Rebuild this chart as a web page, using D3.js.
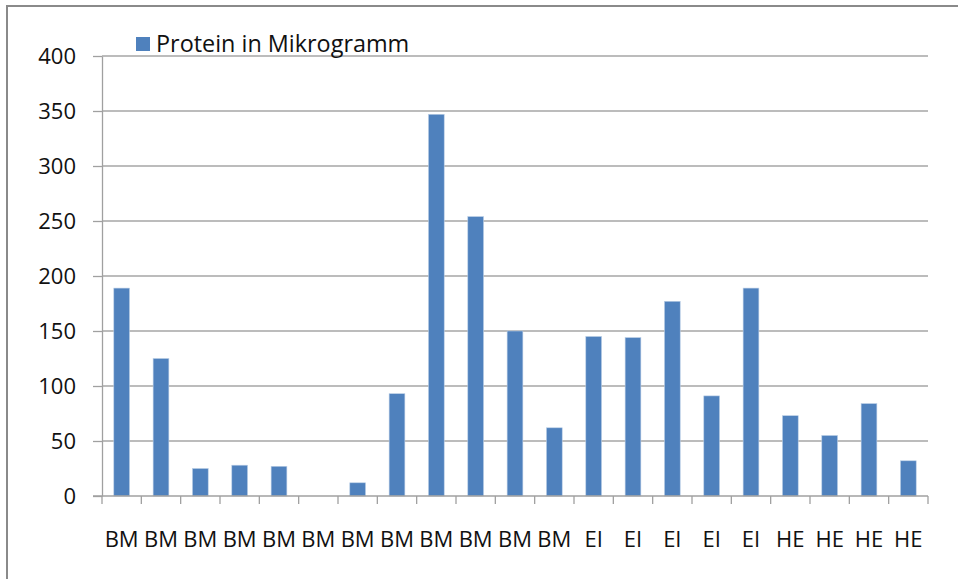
<!DOCTYPE html>
<meta charset="utf-8">
<style>
    body { margin: 0; background: #fff; }
    text { font-family: "Open Sans", sans-serif; fill: #111; }
    .grid line { stroke: #a6a6a6; stroke-width: 1.3px; }
    .axis path, .axis line { stroke: #a0a0a0; stroke-width: 1.3px; }
</style>
<svg width="958" height="579"></svg>
<script src="https://d3js.org/d3.v7.min.js"></script>
<script>

    var categories = ["BM", "BM", "BM", "BM", "BM", "BM", "BM", "BM", "BM", "BM", "BM", "BM",
        "EI", "EI", "EI", "EI", "EI", "HE", "HE", "HE", "HE"];
    var protein = [189, 125, 25, 28, 27, 0, 12, 93, 347, 254, 150, 62,
        145, 144, 177, 91, 189, 73, 55, 84, 32];
    var yTicks = [0, 50, 100, 150, 200, 250, 300, 350, 400];
    var seriesName = "Protein in Mikrogramm";

    var svg = d3.select("svg");

    // outer chart frame (cut off at right and bottom like the screenshot)
    svg.append("rect")
        .attr("x", 7).attr("y", 6)
        .attr("width", 980).attr("height", 600)
        .attr("fill", "none")
        .attr("stroke", "#8a8a8a")
        .attr("stroke-width", 2);

    var plotLeft = 102, plotRight = 928, plotTop = 56, plotBottom = 496;

    var x = d3.scaleBand()
        .domain(d3.range(categories.length))
        .range([plotLeft, plotRight])
        .paddingInner(0.6)
        .paddingOuter(0.3);

    var y = d3.scaleLinear()
        .domain([0, 400])
        .range([plotBottom, plotTop]);

    // gridlines
    svg.append("g")
        .attr("class", "grid")
        .selectAll("line")
        .data(yTicks.filter(function (d) { return d > 0; }))
        .enter().append("line")
        .attr("x1", plotLeft).attr("x2", plotRight)
        .attr("y1", function (d) { return y(d); })
        .attr("y2", function (d) { return y(d); });

    // bars
    svg.append("g")
        .selectAll("rect")
        .data(protein)
        .enter().append("rect")
        .attr("x", function (d, i) { return x(i); })
        .attr("y", function (d) { return y(d); })
        .attr("width", x.bandwidth())
        .attr("height", function (d) { return plotBottom - y(d); })
        .attr("fill", "#4f81bd")
        .attr("stroke", "#b9cde5")
        .attr("stroke-width", 0.6);

    // y axis
    var yAxis = svg.append("g")
        .attr("class", "axis")
        .attr("transform", "translate(" + plotLeft + ",0)")
        .call(d3.axisLeft(y).tickValues(yTicks).tickSize(9).tickPadding(17).tickSizeOuter(0));
    yAxis.selectAll("text")
        .style("font-size", "22px")
        .attr("dy", "0.36em");

    // x axis: category separators
    var xa = svg.append("g").attr("class", "axis");
    xa.append("line")
        .attr("x1", plotLeft - 9).attr("x2", plotRight)
        .attr("y1", plotBottom).attr("y2", plotBottom);
    xa.selectAll(".sep")
        .data(d3.range(categories.length + 1))
        .enter().append("line")
        .attr("class", "sep")
        .attr("x1", function (d) { return plotLeft + d * (plotRight - plotLeft) / categories.length; })
        .attr("x2", function (d) { return plotLeft + d * (plotRight - plotLeft) / categories.length; })
        .attr("y1", plotBottom).attr("y2", plotBottom + 8);
    xa.selectAll("text")
        .data(categories)
        .enter().append("text")
        .attr("x", function (d, i) { return x(i) + x.bandwidth() / 2; })
        .attr("y", 547)
        .attr("text-anchor", "middle")
        .style("font-size", "22px")
        .text(function (d) { return d; });

    // legend
    svg.append("rect")
        .attr("x", 136).attr("y", 37)
        .attr("width", 14).attr("height", 14)
        .attr("fill", "#4f81bd");
    svg.append("text")
        .attr("x", 156).attr("y", 51.5)
        .style("font-size", "23.4px")
        .text(seriesName);

</script>
